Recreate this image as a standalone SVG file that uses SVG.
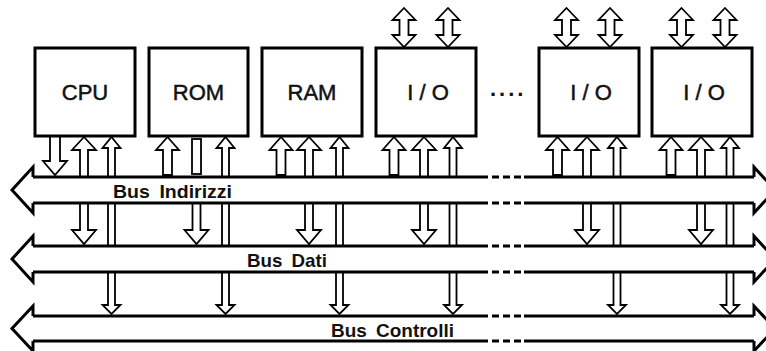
<svg xmlns="http://www.w3.org/2000/svg" xmlns:xlink="http://www.w3.org/1999/xlink" width="766" height="351" viewBox="0 0 766 351">
<style>
.box{fill:#fff;stroke:#000;stroke-width:3}
.lbl{font-family:"Liberation Sans",Arial,sans-serif;font-size:22px;fill:#111;stroke:#111;stroke-width:0.5;text-anchor:middle}
.arr{fill:#fff;stroke:#000;stroke-width:1.8;stroke-linejoin:miter}
.bus{fill:none;stroke:#000;stroke-width:3;stroke-linejoin:miter}
.dash{fill:none;stroke:#000;stroke-width:3;stroke-dasharray:7 4}
.blbl{font-family:"Liberation Sans",Arial,sans-serif;font-size:19px;font-weight:bold;fill:#111}
</style>
<defs>
<path id="addrUp" class="arr" d="M0,137 L11.5,150 L4.5,150 L4.5,175 L-4.5,175 L-4.5,150 L-11.5,150 Z"/>
<path id="addrDown" class="arr" d="M-5,136 L5,136 L5,161 L12,161 L0,175 L-12,161 L-5,161 Z"/>
<path id="dataUp" class="arr" d="M0,137 L12,150 L4,150 L4,177 L-4,177 L-4,150 L-12,150 Z"/>
<path id="dataDown" class="arr" d="M-4,203 L4,203 L4,230 L12,230 L0,244 L-12,230 L-4,230 Z"/>
<rect id="romBar" class="arr" x="-4.5" y="139" width="9" height="35"/>
<path id="ctrlUp" class="arr" d="M0,137 L9,148 L3.5,148 L3.5,177 L-3.5,177 L-3.5,148 L-9,148 Z"/>
<rect id="ctrlMid" class="arr" x="-3.5" y="203" width="7" height="43"/>
<path id="ctrlDown" class="arr" d="M-3.5,272 L3.5,272 L3.5,305 L9,305 L0,314 L-9,305 L-3.5,305 Z"/>
<path id="ioTop" class="arr" d="M0,8 L11.5,20 L4.5,20 L4.5,35 L11.5,35 L0,47 L-11.5,35 L-4.5,35 L-4.5,20 L-11.5,20 Z"/>
</defs>

<g id="connectors">
  <!-- CPU -->
  <use xlink:href="#addrDown" x="55"/>
  <use xlink:href="#dataUp" x="84"/>
  <use xlink:href="#dataDown" x="84"/>
  <use xlink:href="#ctrlUp" x="111.5"/>
  <use xlink:href="#ctrlMid" x="111.5"/>
  <use xlink:href="#ctrlDown" x="111.5"/>
  <!-- ROM -->
  <use xlink:href="#addrUp" x="167.5"/>
  <use xlink:href="#romBar" x="196.5"/>
  <use xlink:href="#dataDown" x="196.5"/>
  <use xlink:href="#ctrlUp" x="225.5"/>
  <use xlink:href="#ctrlMid" x="225.5"/>
  <use xlink:href="#ctrlDown" x="225.5"/>
  <!-- RAM -->
  <use xlink:href="#addrUp" x="281"/>
  <use xlink:href="#dataUp" x="309"/>
  <use xlink:href="#dataDown" x="309"/>
  <use xlink:href="#ctrlUp" x="339.5"/>
  <use xlink:href="#ctrlMid" x="339.5"/>
  <use xlink:href="#ctrlDown" x="339.5"/>
  <!-- I/O 1 -->
  <use xlink:href="#ioTop" x="404"/>
  <use xlink:href="#ioTop" x="448"/>
  <use xlink:href="#addrUp" x="394"/>
  <use xlink:href="#dataUp" x="424"/>
  <use xlink:href="#dataDown" x="424"/>
  <use xlink:href="#ctrlUp" x="453"/>
  <use xlink:href="#ctrlMid" x="453"/>
  <use xlink:href="#ctrlDown" x="453"/>
  <!-- I/O 2 -->
  <use xlink:href="#ioTop" x="566.5"/>
  <use xlink:href="#ioTop" x="610"/>
  <use xlink:href="#addrUp" x="557.5"/>
  <use xlink:href="#dataUp" x="587"/>
  <use xlink:href="#dataDown" x="587"/>
  <use xlink:href="#ctrlUp" x="617"/>
  <use xlink:href="#ctrlMid" x="617"/>
  <use xlink:href="#ctrlDown" x="617"/>
  <!-- I/O 3 -->
  <use xlink:href="#ioTop" x="681.5"/>
  <use xlink:href="#ioTop" x="725"/>
  <use xlink:href="#addrUp" x="671"/>
  <use xlink:href="#dataUp" x="701"/>
  <use xlink:href="#dataDown" x="701"/>
  <use xlink:href="#ctrlUp" x="730"/>
  <use xlink:href="#ctrlMid" x="730"/>
  <use xlink:href="#ctrlDown" x="730"/>
</g>

<g id="bus-indirizzi">
  <path class="bus" d="M33,177 L33,167 L12,190 L33,213 L33,203"/>
  <path class="bus" d="M33,177 L488,177 M524,177 L754,177 M33,203 L488,203 M524,203 L754,203"/>
  <path class="dash" d="M492,177 L521,177 M492,203 L521,203"/>
  <path class="bus" d="M754,177 L754,167 L775,190 L754,213 L754,203"/>
  <text class="blbl" x="113" y="198" textLength="119" lengthAdjust="spacingAndGlyphs" word-spacing="4">Bus Indirizzi</text>
</g>

<g id="bus-dati">
  <path class="bus" d="M33,246 L33,236 L12,259 L33,282 L33,272"/>
  <path class="bus" d="M33,246 L488,246 M524,246 L754,246 M33,272 L488,272 M524,272 L754,272"/>
  <path class="dash" d="M492,246 L521,246 M492,272 L521,272"/>
  <path class="bus" d="M754,246 L754,236 L775,259 L754,282 L754,272"/>
  <text class="blbl" x="247" y="267" textLength="80" lengthAdjust="spacingAndGlyphs" word-spacing="4">Bus Dati</text>
</g>

<g id="bus-controlli">
  <path class="bus" d="M33,316 L33,306 L12,328.5 L33,351 L33,341"/>
  <path class="bus" d="M33,316 L488,316 M524,316 L754,316 M33,341 L488,341 M524,341 L754,341"/>
  <path class="dash" d="M492,316 L521,316 M492,341 L521,341"/>
  <path class="bus" d="M754,316 L754,306 L775,328.5 L754,351 L754,341"/>
  <text class="blbl" x="331" y="337" textLength="123" lengthAdjust="spacingAndGlyphs" word-spacing="4">Bus Controlli</text>
</g>

<g id="cpu"><rect class="box" x="35" y="48" width="100" height="88"/><text class="lbl" x="85" y="100">CPU</text></g>
<g id="rom"><rect class="box" x="149" y="48" width="99" height="88"/><text class="lbl" x="198.5" y="100">ROM</text></g>
<g id="ram"><rect class="box" x="262" y="48" width="100" height="88"/><text class="lbl" x="312" y="100">RAM</text></g>
<g id="io1"><rect class="box" x="376" y="48" width="100" height="88"/><text class="lbl" x="428" y="100">I / O</text></g>
<g id="ellipsis"><text x="490" y="96" style="font-family:'Liberation Sans',Arial,sans-serif;font-size:22px;font-weight:bold;fill:#111;letter-spacing:3px">....</text></g>
<g id="io2"><rect class="box" x="539" y="48" width="100" height="88"/><text class="lbl" x="591" y="100">I / O</text></g>
<g id="io3"><rect class="box" x="652" y="48" width="100" height="88"/><text class="lbl" x="704" y="100">I / O</text></g>
</svg>
